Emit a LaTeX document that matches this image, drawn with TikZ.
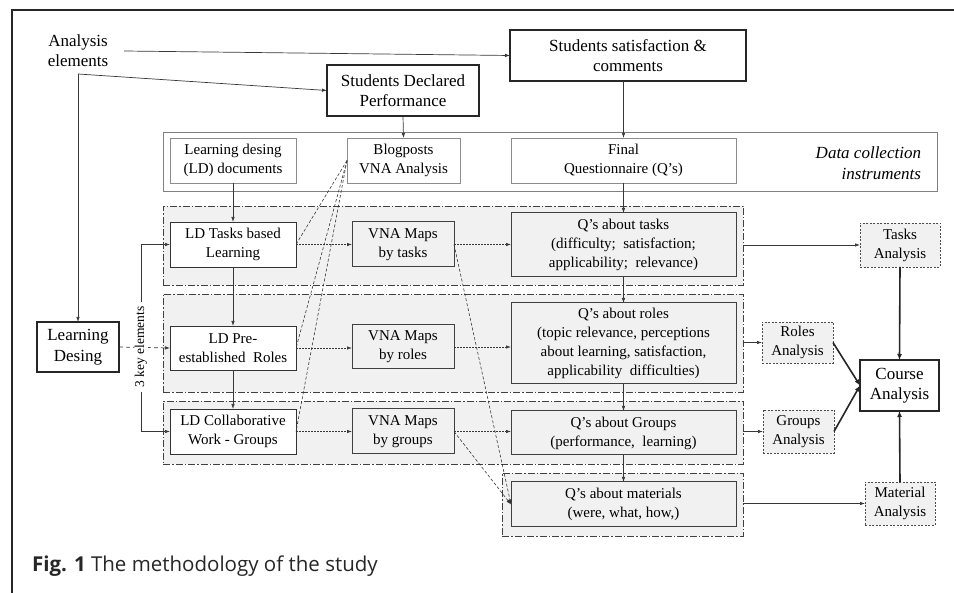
\documentclass[tikz,border=0pt]{standalone}
\usepackage{fontspec}
\setmainfont{Liberation Serif}
\newfontfamily\capfont{Open Sans}
\usetikzlibrary{arrows.meta, positioning, calc}
\definecolor{bandgray}{RGB}{241, 241, 241}
\definecolor{linegray}{RGB}{55, 55, 55}

\begin{document}
\begin{tikzpicture}[x=1pt, y=-1pt,
  every node/.style={font=\fontsize{15}{19}\selectfont, align=center,
                     inner sep=0pt, outer sep=0pt},
  hdbox/.style={draw=black!85, line width=2.4pt, fill=white,
                font=\fontsize{17}{20.5}\selectfont},
  dcbox/.style={draw=black!45, line width=0.8pt, fill=white},
  ldbox/.style={draw=black!80, line width=0.9pt, fill=white},
  qbox/.style={draw=black!75, line width=1pt, fill=bandgray},
  anbox/.style={draw=black!70, fill=bandgray, line width=0.7pt,
                dash pattern=on 2pt off 1.5pt},
  band/.style={draw=black!75, fill=bandgray, line width=0.8pt,
               dash pattern=on 7pt off 2pt on 1.5pt off 2pt},
  arr/.style={draw=linegray, line width=0.7pt, -{Latex[length=5pt,width=3.5pt]}},
  darr/.style={arr, dash pattern=on 2pt off 1pt},
  bline/.style={draw=linegray, line width=0.6pt, dash pattern=on 3pt off 2pt},
  tarr/.style={draw=black!85, line width=1.6pt, -{Latex[length=6pt,width=5pt]}}
]
\useasboundingbox (0,0) rectangle (954,593);

% outer frame
\draw[line width=2.5pt, black!85] (12,593) -- (12,10) -- (954,10);

% analysis elements
\node[font=\fontsize{17}{20}\selectfont] (anel) at (78,51) {Analysis\\elements};
\coordinate (split) at (78,74);
\node[hdbox, minimum width=152pt, minimum height=51pt] (sdp) at (403,90.5)
  {Students Declared\\Performance};
\node[hdbox, minimum width=236pt, minimum height=51pt] (ssc) at (628,55.5)
  {Students satisfaction \&\\comments};

% data collection instruments
\node[draw=black!50, line width=0.7pt, minimum width=774pt, minimum height=59pt]
  (dc) at (550,161.5) {};
\node[dcbox, minimum width=126pt, minimum height=45pt] (lddoc) at (233,160.5)
  {Learning desing\\(LD) documents};
\node[dcbox, minimum width=113pt, minimum height=45pt] (blog) at (403.5,160.5)
  {Blogposts\\VNA Analysis};
\node[dcbox, minimum width=225pt, minimum height=45pt] (finalq) at (623.5,160.5)
  {Final\\Questionnaire (Q's)};
\node[anchor=east, align=right, font=\itshape\fontsize{17}{21}\selectfont]
  (dclabel) at (921,163) {Data collection\\instruments};

% bands
\node[band, minimum width=580pt, minimum height=79pt] (bandT) at (453,245.5) {};
\node[band, minimum width=580pt, minimum height=98pt] (bandR) at (453,343) {};
\node[band, minimum width=580pt, minimum height=63pt] (bandG) at (453,432.5) {};
\node[band, minimum width=241pt, minimum height=63pt] (bandM) at (622.5,504.5) {};

% learning design elements
\node[ldbox, minimum width=126pt, minimum height=45pt] (ldtasks) at (233,244.5)
  {LD Tasks based\\Learning};
\node[ldbox, minimum width=126pt, minimum height=44pt] (ldroles) at (233,348)
  {LD Pre-\\established\ \ Roles};
\node[ldbox, minimum width=126pt, minimum height=45pt] (ldgroups) at (233,431.5)
  {LD Collaborative\\Work - Groups};

% VNA maps
\node[qbox, minimum width=102pt, minimum height=45pt] (vnat) at (403,244.5)
  {VNA Maps\\by tasks};
\node[qbox, minimum width=102pt, minimum height=44pt] (vnar) at (403,347)
  {VNA Maps\\by roles};
\node[qbox, minimum width=102pt, minimum height=45pt] (vnag) at (403,431.5)
  {VNA Maps\\by groups};

% questionnaire parts
\node[qbox, minimum width=225pt, minimum height=64pt] (qtasks) at (623.5,245)
  {Q's about tasks\\(difficulty;\ \ satisfaction;\\applicability;\ \ relevance)};
\node[qbox, minimum width=225pt, minimum height=81pt] (qroles) at (623.5,343.5)
  {Q's about roles\\(topic relevance, perceptions\\about learning, satisfaction,\\applicability\ \ difficulties)};
\node[qbox, minimum width=225pt, minimum height=44pt] (qgroups) at (623.5,433)
  {Q's about Groups\\(performance,\ \ learning)};
\node[qbox, minimum width=225pt, minimum height=45pt] (qmat) at (623.5,504.5)
  {Q's about materials\\(were, what, how,)};

% analyses
\node[anbox, minimum width=80pt, minimum height=44pt] (tana) at (900,245)
  {Tasks\\Analysis};
\node[anbox, minimum width=71pt, minimum height=41pt] (rana) at (797.5,342.5)
  {Roles\\Analysis};
\node[anbox, minimum width=71pt, minimum height=43pt] (gana) at (798.5,431.5)
  {Groups\\Analysis};
\node[anbox, minimum width=70pt, minimum height=43pt] (mana) at (900,503.5)
  {Material\\Analysis};
\node[hdbox, minimum width=79pt, minimum height=51pt] (course) at (899.5,385.5)
  {Course\\Analysis};
\node[hdbox, minimum width=82pt, minimum height=50pt] (learnd) at (78,347)
  {Learning\\Desing};

% caption
\node[anchor=west, font=\capfont\fontsize{20.5}{24}\selectfont, text=black!85]
  (cap) at (32,566) {\textbf{Fig. 1} The methodology of the study};

% connectors
\draw[arr] ([xshift=16pt]anel.east) -- (ssc.west);
\draw[arr] (split) -- (sdp.west);
\draw[arr] (split) -- (learnd.north);
\draw[arr] (sdp.south) -- (blog.north);
\draw[arr] (finalq |- ssc.south) -- (finalq.north);

\foreach \a/\b in {lddoc/ldtasks, ldtasks/ldroles, ldroles/ldgroups,
                   finalq/qtasks, qtasks/qroles, qroles/qgroups, qgroups/qmat}
  \draw[arr] (\a.south) -- (\b.north);

\foreach \a/\b in {ldtasks/vnat, vnat/qtasks, ldroles/vnar, vnar/qroles,
                   ldgroups/vnag, vnag/qgroups}
  \draw[darr] (\a.east) -- (\a.east -| \b.west);

\foreach \t in {ldtasks, ldroles, ldgroups}
  \draw[bline] (blog.west) -- (\t.east);
\draw[bline, -{Latex[length=5pt,width=3.5pt]}] (vnat.east) -- (qmat.west);
\draw[bline, -{Latex[length=5pt,width=3.5pt]}] (vnag.east) -- (qmat.west);

% three key elements
\draw[arr, dash pattern=on 4pt off 3pt] (learnd.east) -- (ldroles.west);
\node[rotate=90, fill=white, inner xsep=5pt, inner ysep=1pt,
      font=\fontsize{13.5}{16}\selectfont] (keys) at (141,347) {3 key elements};
\draw[arr] (keys.east) |- (ldtasks.west);
\draw[arr] (keys.west) |- (ldgroups.west);

% to the analyses
\draw[arr] (tana.west -| bandT.east) -- (tana.west);
\draw[arr] (rana.west -| bandR.east) -- (rana.west);
\draw[arr] (gana.west -| bandG.east) -- (gana.west);
\draw[arr] (mana.west -| bandM.east) -- (mana.west);

\draw[tarr] (tana.south) -- (course.north);
\draw[tarr] (mana.north) -- (course.south);
\draw[tarr] (rana.east) -- (course.west);
\draw[tarr] (gana.east) -- (course.west);

\end{tikzpicture}
\end{document}
